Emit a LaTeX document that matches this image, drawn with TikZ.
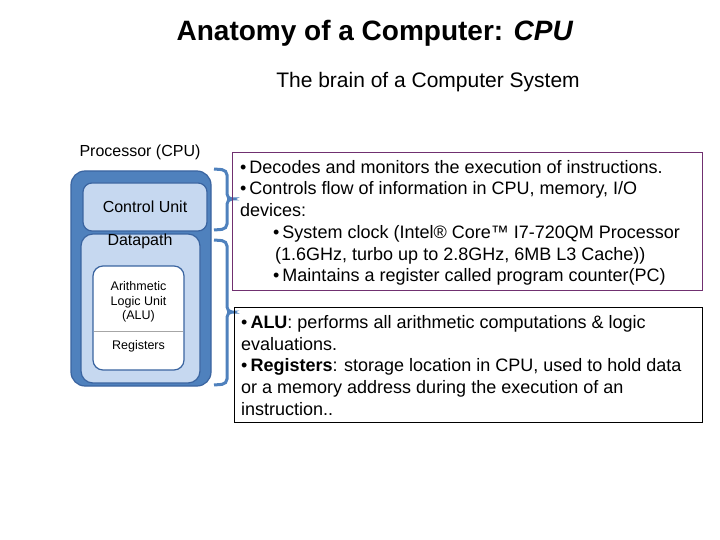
\documentclass[tikz,border=0pt]{standalone}
\usepackage{fontspec}
\setmainfont{Liberation Sans}
\begin{document}
\begin{tikzpicture}[x=1pt,y=-1pt,
  txt/.style={anchor=base west,inner sep=0pt,font=\fontsize{18}{21}\selectfont},
  brace/.style={draw=braceblue,line width=3pt,rounded corners=5pt},
  lab/.style={inner sep=0pt,font=\fontsize{16}{19}\selectfont}]
\definecolor{outerblue}{RGB}{79,129,189}
\definecolor{outerline}{RGB}{58,100,160}
\definecolor{lightblue}{RGB}{198,216,240}
\definecolor{braceblue}{RGB}{79,129,189}
\definecolor{boxpurple}{RGB}{112,48,112}
\useasboundingbox (0,0) rectangle (720,540);
\node[font=\fontsize{28}{32}\selectfont\bfseries] (title) at (375,33) {Anatomy of a Computer: \textit{CPU}};
\node[font=\fontsize{21}{24}\selectfont] (sub) at (428,82) {The brain of a Computer System};
\node[lab] (plab) at (140,152) {Processor (CPU)};
\draw[fill=outerblue,draw=outerline,line width=1.2pt,rounded corners=14pt] (71,171) rectangle (211,386);
\node[draw=outerline,line width=1.2pt,fill=lightblue,rounded corners=9pt,minimum width=124pt,minimum height=48pt,lab] (cu) at (145,207) {Control Unit};
\draw[draw=outerline,line width=1.2pt,fill=lightblue,rounded corners=12pt] (81,234) rectangle (200,383);
\node[lab] (dp) at (140,241) {Datapath};
\draw[draw=outerline,line width=1.2pt,fill=white,rounded corners=10pt] (93,266) rectangle (184,370);
\draw[gray!70,line width=0.6pt] (94,331) -- (183,331);
\node[inner sep=0pt,font=\fontsize{12.5}{14.5}\selectfont,align=center] (alu) at (138.5,302) {Arithmetic\\Logic Unit\\(ALU)};
\node[inner sep=0pt,font=\fontsize{12.5}{14}\selectfont] (reg) at (138.5,346) {Registers};
\draw[brace] (214,169) -- (227,170) -- (227,199) -- (232,199) -- (227,199) -- (227,229) -- (214,230);
\draw[brace] (214,240) -- (227,241) -- (227,312) -- (232,312) -- (227,312) -- (227,384) -- (214,385);
\node[draw=boxpurple,line width=0.8pt,minimum width=470pt,minimum height=138pt,anchor=north west,inner sep=0pt] (b1) at (232,152) {};
\node[draw=black,line width=0.8pt,minimum width=468pt,minimum height=115pt,anchor=north west,inner sep=0pt] (b2) at (234,307) {};
\node[txt] at (240,174) {\textbullet\,Decodes and monitors the execution of instructions.};
\node[txt] at (240,195) {\textbullet\,Controls flow of information in CPU, memory, I/O};
\node[txt] at (240,217) {devices:};
\node[txt] at (273,238) {\textbullet\,System clock (Intel\textregistered{} Core\texttrademark{} I7-720QM Processor};
\node[txt] at (275,260) {(1.6GHz, turbo up to 2.8GHz, 6MB L3 Cache))};
\node[txt] at (273,281) {\textbullet\,Maintains a register called program counter(PC)};
\node[txt] at (241,328) {\textbullet\,\textbf{ALU}: performs all arithmetic computations \& logic};
\node[txt] at (241,350) {evaluations.};
\node[txt] at (241,371) {\textbullet\,\textbf{Registers}: storage location in CPU, used to hold data};
\node[txt] at (241,393) {or a memory address during the execution of an};
\node[txt] at (241,415) {instruction..};
\end{tikzpicture}
\end{document}
